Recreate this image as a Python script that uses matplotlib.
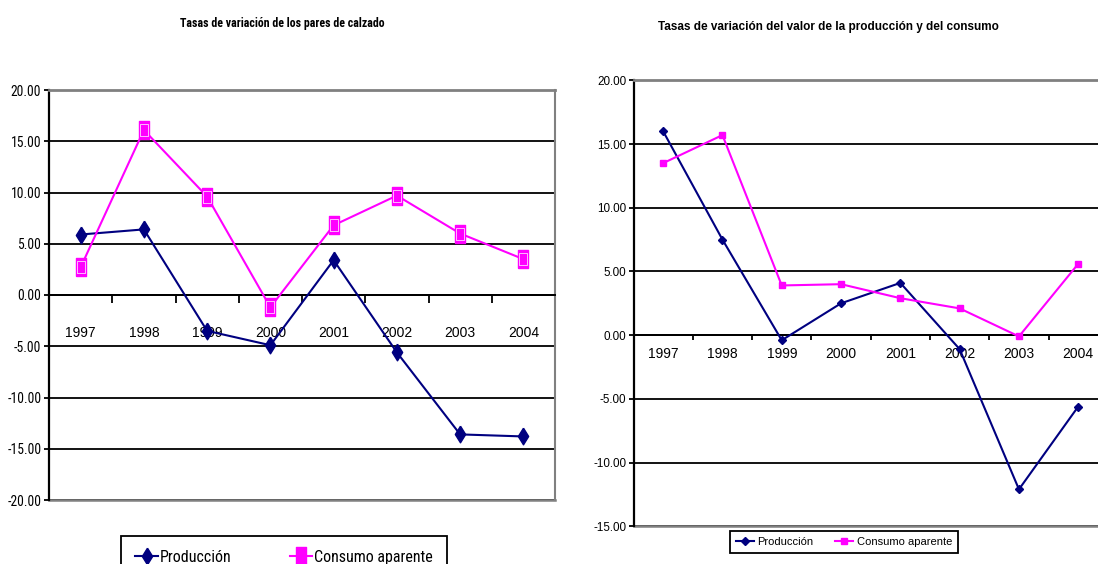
import matplotlib
matplotlib.use('Agg')
import matplotlib.pyplot as plt
import numpy as np
from matplotlib.ticker import FixedLocator, FormatStrFormatter, NullFormatter
from matplotlib.lines import Line2D

plt.rcParams['font.family'] = ['Liberation Sans', 'DejaVu Sans']
plt.rcParams['axes.unicode_minus'] = False

years = ['1997', '1998', '1999', '2000', '2001', '2002', '2003', '2004']

# tasas de variacion de los pares de calzado
pares_produccion = [5.9, 6.4, -3.5, -4.9, 3.4, -5.6, -13.6, -13.8]
pares_consumo = [2.7, 16.1, 9.6, -1.2, 6.8, 9.7, 6.0, 3.5]

# tasas de variacion del valor de la produccion y del consumo
valor_produccion = [16.0, 7.5, -0.4, 2.5, 4.1, -1.1, -12.1, -5.6]
valor_consumo = [13.5, 15.7, 3.9, 4.0, 2.9, 2.1, -0.1, 5.6]

NAVY = '#000080'
MAGENTA = '#FF00FF'
GRAY = '#808080'
NARROW = ['Roboto Condensed', 'DejaVu Sans']

W, H = 1098, 564
fig = plt.figure(figsize=(W / 100, H / 100), dpi=100)


def px_rect(x0, y0, x1, y1):
    return [x0 / W, 1 - y1 / H, (x1 - x0) / W, (y1 - y0) / H]


# tall markers for the left chart
tall_diamond = [(0, 1), (0.62, 0), (0, -1), (-0.62, 0), (0, 1)]
tall_rect = [(-0.6, -1), (0.6, -1), (0.6, 1), (-0.6, 1), (-0.6, -1)]


def style_axes(ax, ymin, ymax, tick_size, tick_family, xpad, xtick_len, ytick_len):
    x = np.arange(len(years)) + 0.5
    ax.set_xlim(0, len(years))
    ax.set_ylim(ymin, ymax)
    ax.yaxis.set_major_locator(FixedLocator(np.arange(ymin, ymax + 1, 5)))
    ax.yaxis.set_major_formatter(FormatStrFormatter('%.2f'))
    ax.xaxis.set_major_locator(FixedLocator(np.arange(len(years) + 1)))
    ax.xaxis.set_major_formatter(NullFormatter())
    ax.xaxis.set_minor_locator(FixedLocator(x))
    ax.set_xticklabels(years, minor=True)
    ax.tick_params(axis='x', which='major', direction='out', length=xtick_len, width=1.3)
    ax.tick_params(axis='x', which='minor', length=0, pad=xpad)
    ax.tick_params(axis='y', direction='out', length=ytick_len, width=1.3, pad=2)
    for lab in ax.get_xticklabels(minor=True) + ax.get_yticklabels():
        lab.set_fontsize(tick_size)
        lab.set_family(tick_family)
    ax.set_axisbelow(True)
    ax.yaxis.grid(True, color='black', lw=1.3)
    ax.spines['bottom'].set_position(('data', 0))
    ax.spines['bottom'].set_linewidth(1.4)
    ax.spines['left'].set_linewidth(1.6)
    ax.spines['top'].set_color(GRAY)
    ax.spines['top'].set_linewidth(2)
    ax.spines['right'].set_color(GRAY)
    ax.spines['right'].set_linewidth(1.5)
    ax.axhline(ymin, color=GRAY, lw=1.8, clip_on=False, zorder=2.4)
    return x


# left chart: pares de calzado
ax1 = fig.add_axes(px_rect(49, 90, 555, 500))
x1 = style_axes(ax1, -20, 20, 9.8, NARROW, 22, 5.5, 3.5)
ax1.plot(x1, pares_produccion, color=NAVY, lw=1.5, marker=tall_diamond,
         ms=12, mfc=NAVY, mec=NAVY, zorder=3)
ax1.plot(x1, pares_consumo, color=MAGENTA, lw=1.5, marker=tall_rect,
         ms=12.5, mfc=MAGENTA, mec=MAGENTA, zorder=3)
ax1.plot(x1, pares_consumo, ls='none', marker=tall_rect, ms=8.5,
         mfc='none', mec='#FFB8FF', mew=0.7, zorder=4)
fig.text(282 / W, 1 - 24 / H, 'Tasas de variación de los pares de calzado',
         ha='center', va='center', fontsize=8.6, fontweight='bold', family=NARROW)

h1 = [Line2D([], [], color=NAVY, lw=1.5, marker=tall_diamond, ms=12, mfc=NAVY, mec=NAVY),
      Line2D([], [], color=MAGENTA, lw=1.5, marker=tall_rect, ms=12.5, mfc=MAGENTA, mec=MAGENTA)]
leg1 = fig.legend(h1, ['Producción', 'Consumo aparente'], loc='upper left',
                  bbox_to_anchor=(121 / W, 1 - 535.7 / H - 0.05, 326 / W, 0.05),
                  mode='expand', ncol=2, borderaxespad=0, borderpad=0.9,
                  handlelength=1.4, handletextpad=0.1, fancybox=False,
                  edgecolor='black', framealpha=1, prop={'family': NARROW, 'size': 11.5})
leg1.get_frame().set_linewidth(1.3)

# right chart: valor de la produccion y del consumo
ax2 = fig.add_axes(px_rect(633.5, 80.3, 633.5 + 8 * 59.3, 526.3))
x2 = style_axes(ax2, -15, 20, 8.4, ['Liberation Sans', 'DejaVu Sans'], 8.5, 3.6, 3.3)
ax2.spines['right'].set_visible(False)
ax2.plot(x2, valor_produccion, color=NAVY, lw=1.5, marker='D', ms=3.6,
         mfc=NAVY, mec=NAVY, zorder=3)
ax2.plot(x2, valor_consumo, color=MAGENTA, lw=1.5, marker='s', ms=4.5,
         mfc=MAGENTA, mec=MAGENTA, zorder=3)
fig.text(828 / W, 1 - 27 / H, 'Tasas de variación del valor de la producción y del consumo',
         ha='center', va='center', fontsize=8.5, fontweight='bold')

h2 = [Line2D([], [], color=NAVY, lw=1.5, marker='D', ms=3.6, mfc=NAVY, mec=NAVY),
      Line2D([], [], color=MAGENTA, lw=1.5, marker='s', ms=4.5, mfc=MAGENTA, mec=MAGENTA)]
leg2 = fig.legend(h2, ['Producción', 'Consumo aparente'], loc='upper left',
                  bbox_to_anchor=(730 / W, 1 - 531 / H - 0.05, 228 / W, 0.05),
                  mode='expand', ncol=2, borderaxespad=0, borderpad=0.55,
                  handlelength=1.6, handletextpad=0.3, fancybox=False,
                  edgecolor='black', framealpha=1, prop={'size': 8})
leg2.get_frame().set_linewidth(1.3)

fig.savefig('out.png', dpi=100)
